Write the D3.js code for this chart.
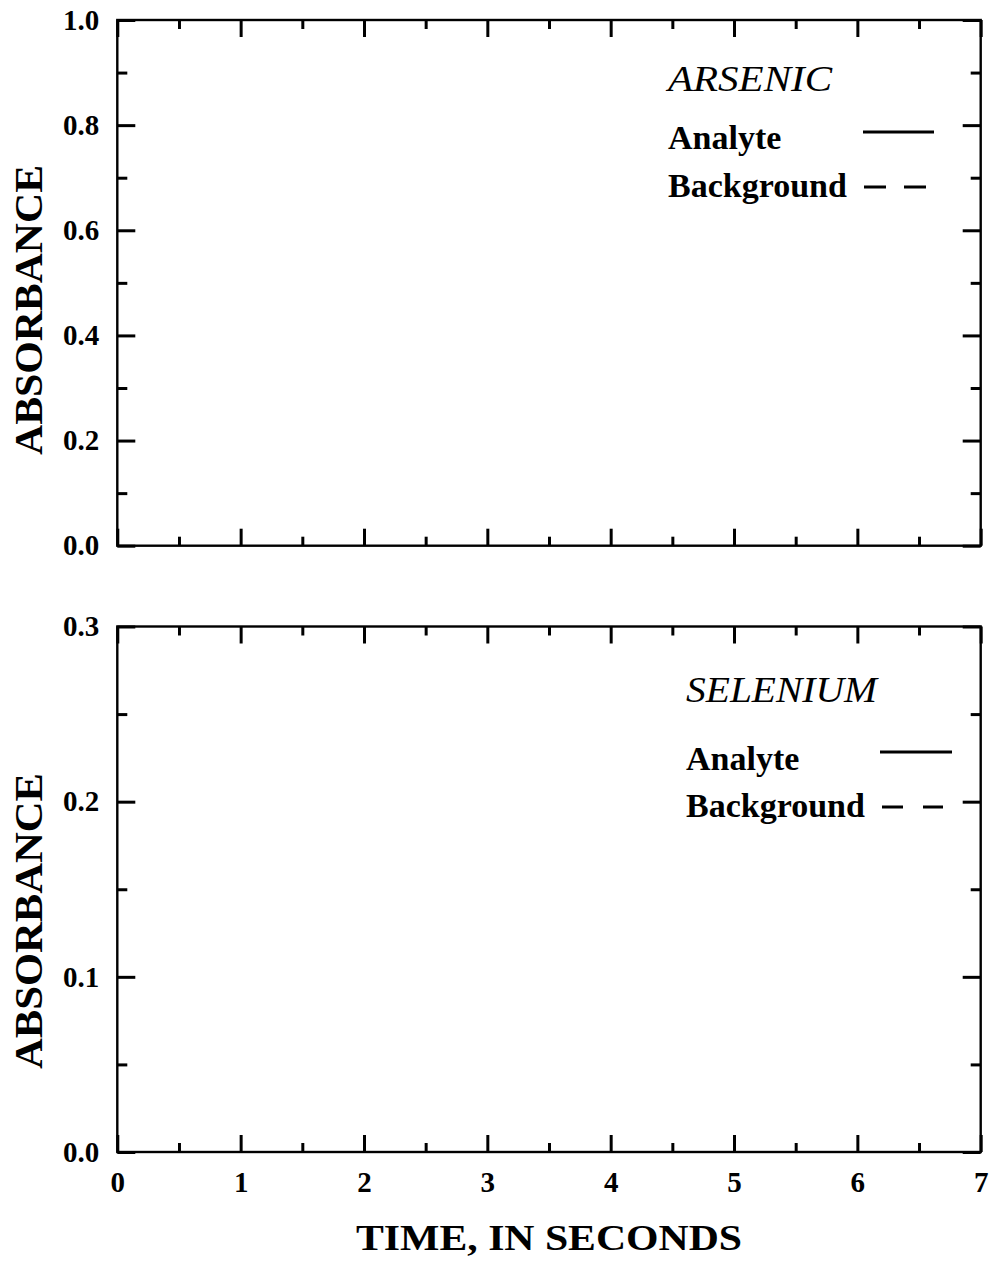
<!DOCTYPE html>
<html>
<head>
<meta charset="utf-8">
<script src="https://cdn.jsdelivr.net/npm/d3@7"></script>
<style>
  html, body { margin: 0; padding: 0; background: #fff; }
  svg { display: block; }
</style>
</head>
<body>
<svg id="chart" width="990" height="1264"></svg>
<script>
// Time axis (seconds)
const timeDomain = [0, 7];
const timeMajor = [0, 1, 2, 3, 4, 5, 6, 7];
const timeMinor = [0.5, 1.5, 2.5, 3.5, 4.5, 5.5, 6.5];

// Arsenic panel absorbance axis
const asDomain = [0, 1.0];
const asMajor = [0, 0.2, 0.4, 0.6, 0.8, 1.0];
const asMinor = [0.1, 0.3, 0.5, 0.7, 0.9];

// Selenium panel absorbance axis
const seDomain = [0, 0.3];
const seMajor = [0, 0.1, 0.2, 0.3];
const seMinor = [0.05, 0.15, 0.25];

// Legend entries
const seriesNames = ["Analyte", "Background"];
const seriesDash = [null, "dashed"];

// Absorbance traces (no trace is plotted in either panel)
const asAnalyte = [];
const asBackground = [];
const seAnalyte = [];
const seBackground = [];

const svg = d3.select("#chart");
const SERIF = "'Liberation Serif', 'Times New Roman', serif";

const left = 117.3, right = 980.7;
const x = d3.scaleLinear().domain(timeDomain).range([left, right]);

const panels = [
  { name: "ARSENIC", domain: asDomain, major: asMajor, minor: asMinor,
    top: 20, bottom: 545.7, fmt: d3.format(".1f"),
    series: [asAnalyte, asBackground],
    titleW: 164, legX: 668, titleY: 91, rowY: [149, 197],
    lineX: [863, 934], lineY: [132, 187], dash: "22,18", dashX: [864, 926],
    ylabelY: 310, ylabelW: 290, xLabels: false },
  { name: "SELENIUM", domain: seDomain, major: seMajor, minor: seMinor,
    top: 626.5, bottom: 1152, fmt: d3.format(".1f"),
    series: [seAnalyte, seBackground],
    titleW: 191, legX: 686, titleY: 702, rowY: [770, 817],
    lineX: [880, 952], lineY: [752, 807], dash: "21,20", dashX: [882, 943],
    ylabelY: 921, ylabelW: 296, xLabels: true }
];

function styleAxis(g, width) {
  g.select(".domain").remove();
  g.selectAll(".tick line").attr("stroke", "#000").attr("stroke-width", width);
  g.attr("font-family", SERIF).attr("font-size", 29).attr("font-weight", "bold");
  g.selectAll(".tick text").attr("fill", "#000");
}

panels.forEach(p => {
  const y = d3.scaleLinear().domain(p.domain).range([p.bottom, p.top]);
  const g = svg.append("g");

  // Left axis: labelled major ticks and minor ticks, pointing inward
  g.append("g").attr("transform", `translate(${left},0)`)
    .call(d3.axisLeft(y).tickValues(p.major).tickSize(-18).tickPadding(18).tickFormat(p.fmt))
    .call(a => styleAxis(a, 3));
  g.append("g").attr("transform", `translate(${left},0)`)
    .call(d3.axisLeft(y).tickValues(p.minor).tickSize(-10).tickFormat(""))
    .call(a => styleAxis(a, 3));

  // Right axis: mirrored ticks
  g.append("g").attr("transform", `translate(${right},0)`)
    .call(d3.axisRight(y).tickValues(p.major).tickSize(-18).tickFormat(""))
    .call(a => styleAxis(a, 3));
  g.append("g").attr("transform", `translate(${right},0)`)
    .call(d3.axisRight(y).tickValues(p.minor).tickSize(-10).tickFormat(""))
    .call(a => styleAxis(a, 3));

  // Bottom axis
  g.append("g").attr("transform", `translate(0,${p.bottom})`)
    .call(d3.axisBottom(x).tickValues(timeMajor).tickSize(-17).tickPadding(19)
      .tickFormat(p.xLabels ? d3.format("d") : ""))
    .call(a => styleAxis(a, 3));
  g.append("g").attr("transform", `translate(0,${p.bottom})`)
    .call(d3.axisBottom(x).tickValues(timeMinor).tickSize(-9).tickFormat(""))
    .call(a => styleAxis(a, 3));

  // Top axis
  g.append("g").attr("transform", `translate(0,${p.top})`)
    .call(d3.axisTop(x).tickValues(timeMajor).tickSize(-17).tickFormat(""))
    .call(a => styleAxis(a, 3));
  g.append("g").attr("transform", `translate(0,${p.top})`)
    .call(d3.axisTop(x).tickValues(timeMinor).tickSize(-9).tickFormat(""))
    .call(a => styleAxis(a, 3));

  // Plot frame
  g.append("rect")
    .attr("x", left).attr("y", p.top)
    .attr("width", right - left).attr("height", p.bottom - p.top)
    .attr("fill", "none").attr("stroke", "#000").attr("stroke-width", 2.4);

  // Traces
  const line = d3.line().x(d => x(d[0])).y(d => y(d[1]));
  p.series.forEach((s, i) => {
    if (!s.length) return;
    g.append("path").datum(s)
      .attr("d", line).attr("fill", "none").attr("stroke", "#000")
      .attr("stroke-width", 3)
      .attr("stroke-dasharray", seriesDash[i] ? p.dash : null);
  });

  // Y-axis title
  g.append("text")
    .attr("transform", `translate(42,${p.ylabelY}) rotate(-90)`)
    .attr("text-anchor", "middle")
    .attr("font-family", SERIF).attr("font-size", 40).attr("font-weight", "bold")
    .attr("textLength", p.ylabelW).attr("lengthAdjust", "spacingAndGlyphs")
    .text("ABSORBANCE");

  // Legend
  g.append("text")
    .attr("x", p.legX).attr("y", p.titleY)
    .attr("font-family", SERIF).attr("font-size", 36).attr("font-style", "italic")
    .attr("textLength", p.titleW).attr("lengthAdjust", "spacingAndGlyphs")
    .text(p.name);
  seriesNames.forEach((name, i) => {
    g.append("text")
      .attr("x", p.legX).attr("y", p.rowY[i])
      .attr("font-family", SERIF).attr("font-size", 34).attr("font-weight", "bold")
      .text(name);
    const xs = seriesDash[i] ? p.dashX : p.lineX;
    g.append("line")
      .attr("x1", xs[0]).attr("x2", xs[1])
      .attr("y1", p.lineY[i]).attr("y2", p.lineY[i])
      .attr("stroke", "#000").attr("stroke-width", 3.2)
      .attr("stroke-dasharray", seriesDash[i] ? p.dash : null);
  });
});

// X-axis title
svg.append("text")
  .attr("x", (left + right) / 2).attr("y", 1250)
  .attr("text-anchor", "middle")
  .attr("font-family", SERIF).attr("font-size", 36).attr("font-weight", "bold")
  .attr("textLength", 386).attr("lengthAdjust", "spacingAndGlyphs")
  .text("TIME, IN SECONDS");
</script>
</body>
</html>
